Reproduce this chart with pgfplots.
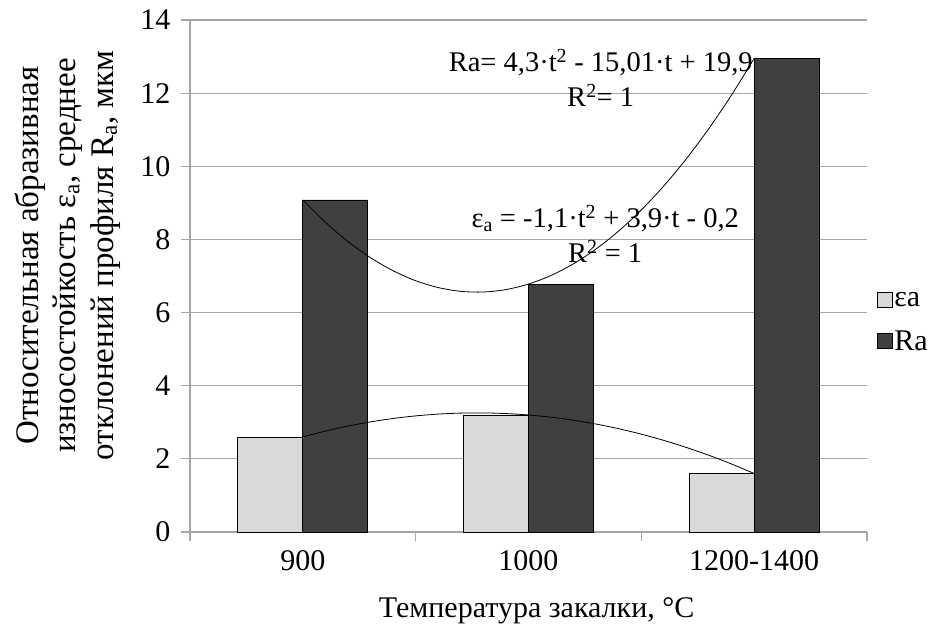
\documentclass[border=0pt]{standalone}
\usepackage{fontspec}
\setmainfont{Liberation Serif}
\usepackage{pgfplots}
\pgfplotsset{compat=1.18}
\definecolor{lightbar}{HTML}{D9D9D9}
\definecolor{darkbar}{HTML}{404040}
\definecolor{gridgray}{HTML}{A6A6A6}
\newcommand{\tickf}{\fontsize{30}{34}\selectfont}
\newcommand{\ylabf}{\fontsize{33}{37.5}\selectfont}
\newcommand{\xlabf}{\fontsize{30}{34}\selectfont}
\newcommand{\eqf}{\fontsize{28.5}{35}\selectfont}
\begin{document}
\begin{tikzpicture}
\path[use as bounding box] (-190pt,-103pt) rectangle (747pt,532pt);
\begin{axis}[
  at={(0pt,0pt)}, anchor=south west,
  scale only axis, width=677pt, height=512pt,
  xmin=-0.5, xmax=2.5, ymin=0, ymax=14,
  axis lines*=left,
  axis line style={draw=gridgray, line width=1.2pt},
  ymajorgrids, grid style={draw=gridgray, line width=1.2pt},
  ytick={0,2,4,6,8,10,12,14},
  tick align=outside,
  major tick length=9pt,
  tick style={draw=gridgray, line width=1.2pt},
  xtick={-0.5,0.5,1.5,2.5}, xticklabels={},
  extra x ticks={0,1,2},
  extra x tick labels={900,1000,1200-1400},
  extra x tick style={major tick length=0pt, xticklabel style={yshift=-15pt}},
  yticklabel style={xshift=-7pt},
  ticklabel style={font=\tickf},
  /pgf/number format/assume math mode=true,
  xlabel={Температура закалки, °C},
  xlabel style={font=\xlabf, at={(axis description cs:0.512,0)}, anchor=center, yshift=-79pt},
  ylabel={Относительная абразивная\\износостойкость ε\textsubscript{a}, среднее\\отклонений профиля R\textsubscript{a}, мкм},
  ylabel style={font=\ylabf, align=center, at={(axis description cs:-0.181,0.54)}, anchor=center},
  legend style={draw=none, fill=none, at={(axis description cs:1.014,0.41)}, anchor=west, font=\tickf, row sep=19pt, inner sep=0pt},
  legend cell align=left,
]
\addplot[ybar, bar width=0.288, bar shift=-0.144, fill=lightbar, draw=black, line width=0.8pt,
  legend image code/.code={\draw[fill=lightbar, draw=black, line width=0.6pt] (0pt,-7pt) rectangle (15pt,8pt);}]
  coordinates {(0,2.6) (1,3.2) (2,1.6)};
\addlegendentry{εa}
\addplot[ybar, bar width=0.288, bar shift=0.144, fill=darkbar, draw=black, line width=0.8pt,
  legend image code/.code={\draw[fill=darkbar, draw=black, line width=0.6pt] (0pt,-7pt) rectangle (15pt,8pt);}]
  coordinates {(0,9.08) (1,6.78) (2,12.95)};
\addlegendentry{Ra}
% polynomial trendlines
\addplot[black, line width=0.8pt, smooth, forget plot] coordinates {
(0.0,2.600) (0.1,2.759) (0.2,2.896) (0.3,3.011) (0.4,3.104) (0.5,3.175) (0.6,3.224) (0.7,3.251) (0.8,3.256) (0.9,3.239)
(1.0,3.200) (1.1,3.139) (1.2,3.056) (1.3,2.951) (1.4,2.824) (1.5,2.675) (1.6,2.504) (1.7,2.311) (1.8,2.096) (1.9,1.859) (2.0,1.600)};
\addplot[black, line width=0.8pt, smooth, forget plot] coordinates {
(0.0,9.080) (0.1,8.469) (0.2,7.942) (0.3,7.500) (0.4,7.144) (0.5,6.871) (0.6,6.684) (0.7,6.580) (0.8,6.562) (0.9,6.628)
(1.0,6.780) (1.1,7.015) (1.2,7.336) (1.3,7.741) (1.4,8.232) (1.5,8.806) (1.6,9.466) (1.7,10.209) (1.8,11.038) (1.9,11.951) (2.0,12.950)};
\node[font=\eqf, align=center, inner sep=0pt] at (axis cs:1.32,12.42) {Ra= 4,3·t\textsuperscript{2} - 15,01·t + 19,9\\R\textsuperscript{2}= 1};
\node[font=\eqf, align=center, inner sep=0pt] at (axis cs:1.34,8.14) {ε\textsubscript{a} = -1,1·t\textsuperscript{2} + 3,9·t - 0,2\\R\textsuperscript{2} = 1};
\end{axis}
\end{tikzpicture}
\end{document}
